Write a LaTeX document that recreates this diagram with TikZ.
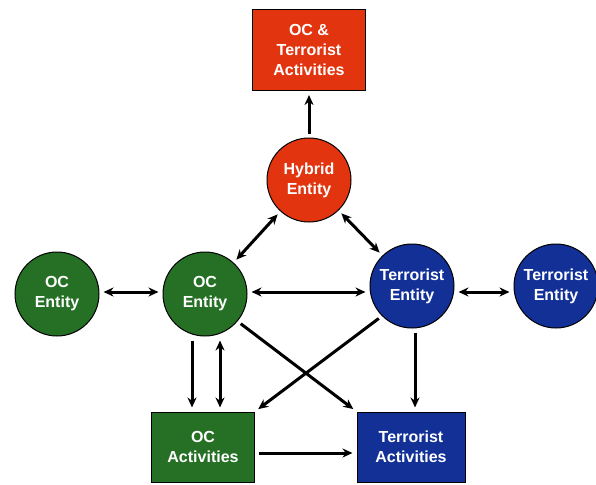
\documentclass[tikz,border=0pt]{standalone}
\usepackage{fontspec}
\setmainfont{Liberation Sans}
\usetikzlibrary{arrows.meta}

\definecolor{ocgreen}{RGB}{38,112,38}
\definecolor{terblue}{RGB}{18,48,150}
\definecolor{hybred}{RGB}{226,52,14}

\tikzset{
  entity/.style={circle, draw=black, line width=1pt, minimum size=84pt, inner sep=0pt,
    align=center, text=white, font=\bfseries\fontsize{16}{20}\selectfont},
  activity/.style={rectangle, draw=black, line width=1pt, inner sep=0pt, align=center,
    text=white, font=\bfseries\fontsize{16}{20}\selectfont},
  link/.style={line width=3pt, -{Stealth[length=10pt,width=9pt]}, shorten >=4pt, shorten <=4pt},
  both/.style={link, {Stealth[length=10pt,width=9pt]}-{Stealth[length=10pt,width=9pt]}},
}

\begin{document}
\begin{tikzpicture}[x=1pt, y=-1pt]
  \useasboundingbox (0,0) rectangle (596,484);

  \node[activity, fill=hybred, minimum width=113pt, minimum height=81pt] (mixact) at (309,50) {OC \&\\Terrorist\\Activities};
  \node[entity, fill=hybred] (hybrid) at (309,180) {Hybrid\\Entity};
  \node[entity, fill=ocgreen] (ocfar) at (57,294) {OC\\Entity};
  \node[entity, fill=ocgreen] (ocent) at (205,294) {OC\\Entity};
  \node[entity, fill=terblue] (terent) at (412,286) {Terrorist\\Entity};
  \node[entity, fill=terblue] (terfar) at (556,286) {Terrorist\\Entity};
  \node[activity, fill=ocgreen, minimum width=103pt, minimum height=70pt] (ocact) at (203,447) {OC\\Activities};
  \node[activity, fill=terblue, minimum width=108pt, minimum height=70pt] (teract) at (411,447) {Terrorist\\Activities};

  % links between the entities
  \draw[link] (hybrid) -- (mixact);
  \draw[both] (hybrid) -- (ocent);
  \draw[both] (hybrid) -- (terent);
  \draw[both] ([yshift=2pt]ocfar.east) -- ([yshift=2pt]ocent.west);
  \draw[both] ([yshift=2pt]ocent.east) -- ([yshift=2pt]ocent.east -| terent.west);
  \draw[both] ([yshift=-6pt]terent.east) -- ([yshift=-6pt]terfar.west);

  % links down to the activities
  \draw[link] ([xshift=-13pt]ocent.south) -- ([xshift=-11pt]ocact.north);
  \draw[both] ([xshift=15pt]ocent.south) -- ([xshift=17pt]ocact.north);
  \draw[link] ([xshift=3pt]terent.south) -- ([xshift=3pt]terent.south |- teract.north);
  \draw[link] (ocent.-40) -- (teract.north west);
  \draw[link] (terent.-135) -- (ocact.north east);
  \draw[link] ([yshift=-6pt]ocact.east) -- ([yshift=-6pt]teract.west);
\end{tikzpicture}
\end{document}
